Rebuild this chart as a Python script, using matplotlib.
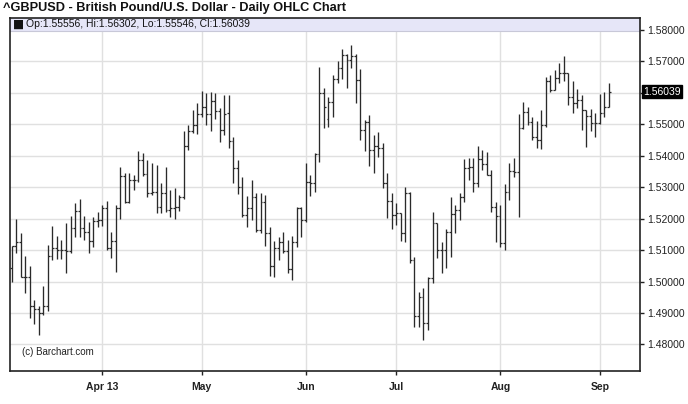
import numpy as np
import pandas as pd
import matplotlib
matplotlib.use("Agg")
import matplotlib.pyplot as plt
import matplotlib.transforms as mtransforms

plt.rcParams['font.family'] = ['Liberation Sans', 'DejaVu Sans']

dates = pd.bdate_range('2013-03-04', '2013-09-04')

opens = [1.5042, 1.5113, 1.5125, 1.5016, 1.5014, 1.4923, 1.4913, 1.4899, 1.4923, 1.5081,
         1.5106, 1.5100, 1.5100, 1.5097, 1.5172, 1.5225, 1.5172, 1.5159, 1.5130, 1.5193,
         1.5196, 1.5233, 1.5106, 1.5130, 1.5233, 1.5336, 1.5254, 1.5323, 1.5323, 1.5387,
         1.5341, 1.5281, 1.5286, 1.5238, 1.5281, 1.5228, 1.5233, 1.5238, 1.5270, 1.5432,
         1.5480, 1.5498, 1.5532, 1.5554, 1.5532, 1.5575, 1.5542, 1.5482, 1.5535, 1.5448,
         1.5360, 1.5300, 1.5212, 1.5235, 1.5268, 1.5164, 1.5254, 1.5153, 1.5048, 1.5106,
         1.5127, 1.5098, 1.5039, 1.5127, 1.5233, 1.5196, 1.5318, 1.5312, 1.5405, 1.5599,
         1.5516, 1.5572, 1.5643, 1.5678, 1.5721, 1.5705, 1.5717, 1.5641, 1.5482, 1.5509,
         1.5418, 1.5431, 1.5424, 1.5312, 1.5257, 1.5212, 1.5217, 1.5156, 1.5281, 1.5069,
         1.4891, 1.4950, 1.4867, 1.5011, 1.5185, 1.5100, 1.5100, 1.5159, 1.5215, 1.5228,
         1.5270, 1.5360, 1.5365, 1.5313, 1.5389, 1.5374, 1.5339, 1.5238, 1.5208, 1.5122,
         1.5286, 1.5353, 1.5350, 1.5487, 1.5540, 1.5508, 1.5461, 1.5450, 1.5498, 1.5639,
         1.5609, 1.5646, 1.5664, 1.5662, 1.5588, 1.5567, 1.5577, 1.5546, 1.5525, 1.5503,
         1.5503, 1.5537, 1.55556]
highs = [1.5113, 1.5198, 1.5153, 1.5082, 1.5050, 1.4941, 1.4922, 1.4986, 1.5116, 1.5177,
         1.5145, 1.5132, 1.5187, 1.5208, 1.5249, 1.5262, 1.5208, 1.5190, 1.5204, 1.5222,
         1.5243, 1.5256, 1.5159, 1.5243, 1.5365, 1.5344, 1.5344, 1.5340, 1.5415, 1.5410,
         1.5387, 1.5378, 1.5371, 1.5314, 1.5365, 1.5291, 1.5297, 1.5275, 1.5480, 1.5498,
         1.5546, 1.5567, 1.5606, 1.5599, 1.5602, 1.5599, 1.5551, 1.5593, 1.5593, 1.5459,
         1.5387, 1.5332, 1.5272, 1.5323, 1.5281, 1.5283, 1.5275, 1.5175, 1.5129, 1.5143,
         1.5159, 1.5132, 1.5145, 1.5238, 1.5238, 1.5376, 1.5339, 1.5408, 1.5683, 1.5615,
         1.5586, 1.5657, 1.5702, 1.5739, 1.5724, 1.5752, 1.5724, 1.5675, 1.5514, 1.5530,
         1.5466, 1.5477, 1.5440, 1.5344, 1.5281, 1.5249, 1.5219, 1.5302, 1.5286, 1.5079,
         1.4968, 1.4979, 1.5014, 1.5222, 1.5187, 1.5127, 1.5166, 1.5268, 1.5244, 1.5283,
         1.5389, 1.5392, 1.5392, 1.5431, 1.5418, 1.5413, 1.5355, 1.5254, 1.5244, 1.5310,
         1.5378, 1.5392, 1.5533, 1.5572, 1.5556, 1.5524, 1.5512, 1.5546, 1.5652, 1.5657,
         1.5673, 1.5694, 1.5717, 1.5662, 1.5639, 1.5612, 1.5593, 1.5546, 1.5548, 1.5535,
         1.5597, 1.5604, 1.56302]
lows = [1.5000, 1.5092, 1.5016, 1.4963, 1.4883, 1.4865, 1.4830, 1.4894, 1.4908, 1.5069,
        1.5071, 1.5071, 1.5028, 1.5090, 1.5143, 1.5141, 1.5132, 1.5092, 1.5111, 1.5175,
        1.5177, 1.5100, 1.5074, 1.5032, 1.5198, 1.5249, 1.5249, 1.5291, 1.5318, 1.5336,
        1.5270, 1.5276, 1.5217, 1.5219, 1.5222, 1.5204, 1.5198, 1.5225, 1.5262, 1.5418,
        1.5474, 1.5469, 1.5524, 1.5498, 1.5480, 1.5516, 1.5445, 1.5466, 1.5424, 1.5312,
        1.5279, 1.5206, 1.5173, 1.5196, 1.5159, 1.5155, 1.5113, 1.5018, 1.5014, 1.5069,
        1.5090, 1.5026, 1.5005, 1.5111, 1.5143, 1.5191, 1.5272, 1.5286, 1.5381, 1.5487,
        1.5493, 1.5522, 1.5630, 1.5643, 1.5615, 1.5678, 1.5567, 1.5450, 1.5416, 1.5366,
        1.5344, 1.5397, 1.5297, 1.5201, 1.5166, 1.5180, 1.5130, 1.5127, 1.5058, 1.4857,
        1.4857, 1.4814, 1.4846, 1.4997, 1.5074, 1.5028, 1.5042, 1.5079, 1.5156, 1.5196,
        1.5254, 1.5323, 1.5286, 1.5300, 1.5355, 1.5339, 1.5222, 1.5127, 1.5109, 1.5101,
        1.5259, 1.5334, 1.5204, 1.5484, 1.5498, 1.5450, 1.5424, 1.5421, 1.5493, 1.5604,
        1.5609, 1.5630, 1.5639, 1.5562, 1.5537, 1.5551, 1.5482, 1.5427, 1.5480, 1.5461,
        1.5500, 1.5522, 1.55546]
closes = [1.5113, 1.5125, 1.5016, 1.5014, 1.4923, 1.4913, 1.4899, 1.4923, 1.5081, 1.5106,
          1.5100, 1.5100, 1.5097, 1.5172, 1.5225, 1.5172, 1.5159, 1.5130, 1.5193, 1.5196,
          1.5233, 1.5106, 1.5130, 1.5233, 1.5336, 1.5254, 1.5323, 1.5323, 1.5387, 1.5341,
          1.5281, 1.5286, 1.5238, 1.5281, 1.5228, 1.5233, 1.5238, 1.5270, 1.5432, 1.5480,
          1.5498, 1.5532, 1.5554, 1.5532, 1.5575, 1.5542, 1.5482, 1.5532, 1.5448, 1.5360,
          1.5300, 1.5212, 1.5235, 1.5268, 1.5164, 1.5254, 1.5153, 1.5048, 1.5106, 1.5127,
          1.5098, 1.5039, 1.5127, 1.5233, 1.5196, 1.5318, 1.5312, 1.5406, 1.5599, 1.5556,
          1.5572, 1.5643, 1.5678, 1.5721, 1.5705, 1.5717, 1.5641, 1.5482, 1.5509, 1.5418,
          1.5431, 1.5424, 1.5312, 1.5257, 1.5212, 1.5217, 1.5156, 1.5281, 1.5069, 1.4891,
          1.4950, 1.4867, 1.5011, 1.5185, 1.5100, 1.5100, 1.5159, 1.5215, 1.5228, 1.5270,
          1.5360, 1.5365, 1.5313, 1.5389, 1.5374, 1.5339, 1.5238, 1.5208, 1.5122, 1.5286,
          1.5353, 1.5350, 1.5487, 1.5540, 1.5508, 1.5461, 1.5450, 1.5498, 1.5639, 1.5609,
          1.5646, 1.5664, 1.5662, 1.5588, 1.5567, 1.5577, 1.5546, 1.5525, 1.5503, 1.5503,
          1.5537, 1.5556, 1.56039]

month_labels = ['Apr 13', 'May', 'Jun', 'Jul', 'Aug', 'Sep']
price_ticks = [1.48, 1.49, 1.50, 1.51, 1.52, 1.53, 1.54, 1.55, 1.56, 1.57, 1.58]
title = '^GBPUSD - British Pound/U.S. Dollar - Daily OHLC Chart'
last = dict(Op=1.55556, Hi=1.56302, Lo=1.55546, Cl=1.56039)

W, H = 688, 404
fig = plt.figure(figsize=(W / 100, H / 100), dpi=100)
ax = fig.add_axes([10 / W, 1 - 371 / H, 630 / W, 353 / H])

x = np.arange(len(dates))
bar_col = '#2a2a2a'
ax.vlines(x, lows, highs, color=bar_col, lw=0.95, zorder=3)
ax.hlines(opens, x - 0.42, x, color=bar_col, lw=0.9, zorder=3)
ax.hlines(closes, x, x + 0.42, color=bar_col, lw=0.9, zorder=3)

# month ticks at first trading day of each month
months = dates.month
tick_pos = [int(np.argmax(months == m)) for m in [4, 5, 6, 7, 8, 9]]

ax.set_xlim(-0.376, 138.85)
ymin, ymax = 1.47157, 1.58382
ax.set_ylim(ymin, ymax)

ax.set_xticks(tick_pos)
ax.set_xticklabels(month_labels, fontsize=7.5, fontweight='bold', color='#222222')
ax.set_yticks(price_ticks)
# the boxed last-price label sits over the 1.56000 level, so that label is not drawn
ylabels = ['' if abs(v - round(last['Cl'], 2)) < 1e-9 else '%.5f' % v for v in price_ticks]
ax.set_yticklabels(ylabels, fontsize=7.5, color='#222222')
ax.yaxis.tick_right()
ax.tick_params(axis='y', direction='out', length=3, width=1, pad=2, colors='#222222')
ax.tick_params(axis='x', direction='out', length=3, width=1, pad=5, colors='#222222')

ax.grid(True, color='#e0e0e0', lw=1.0, zorder=0)
ax.set_axisbelow(True)
for s in ax.spines.values():
    s.set_color('#222222')
    s.set_linewidth(1.2)

# header band
band_bottom = 1.5797
band_mid = (ymax + band_bottom) / 2
blend = mtransforms.blended_transform_factory(ax.transAxes, ax.transData)
ax.axhspan(band_bottom, ymax, facecolor='#e6e6f8', edgecolor='none', zorder=1)
ax.axhline(band_bottom, color='#c8c8d8', lw=0.8, zorder=1)
ax.text(3 / 630, band_mid, '\u25a0', transform=blend, fontsize=8.5, va='center', ha='left',
        color='#111111', family=['DejaVu Sans'], zorder=4)
ax.text(16 / 630, band_mid,
        'Op:%.5f, Hi:%.5f, Lo:%.5f, Cl:%.5f' % (last['Op'], last['Hi'], last['Lo'], last['Cl']),
        transform=blend, fontsize=7.5, va='center', ha='left', color='#111111', zorder=4)

# last price label
ax.text(1.0 + 3 / 630, last['Cl'], '%.5f' % last['Cl'], transform=blend,
        fontsize=7.5, va='center', ha='left', color='white',
        bbox=dict(boxstyle='square,pad=0.12', facecolor='black', edgecolor='black'),
        zorder=5, clip_on=False)

ax.text(12 / 630, (371 - 352) / 353, '(c) Barchart.com', transform=ax.transAxes,
        fontsize=7, va='center', ha='left', color='#222222')

fig.text(3 / W, 1 - 8 / H, title, fontsize=9.2, fontweight='bold', va='center', ha='left',
         color='#111111')

fig.savefig('out.png', dpi=100)
